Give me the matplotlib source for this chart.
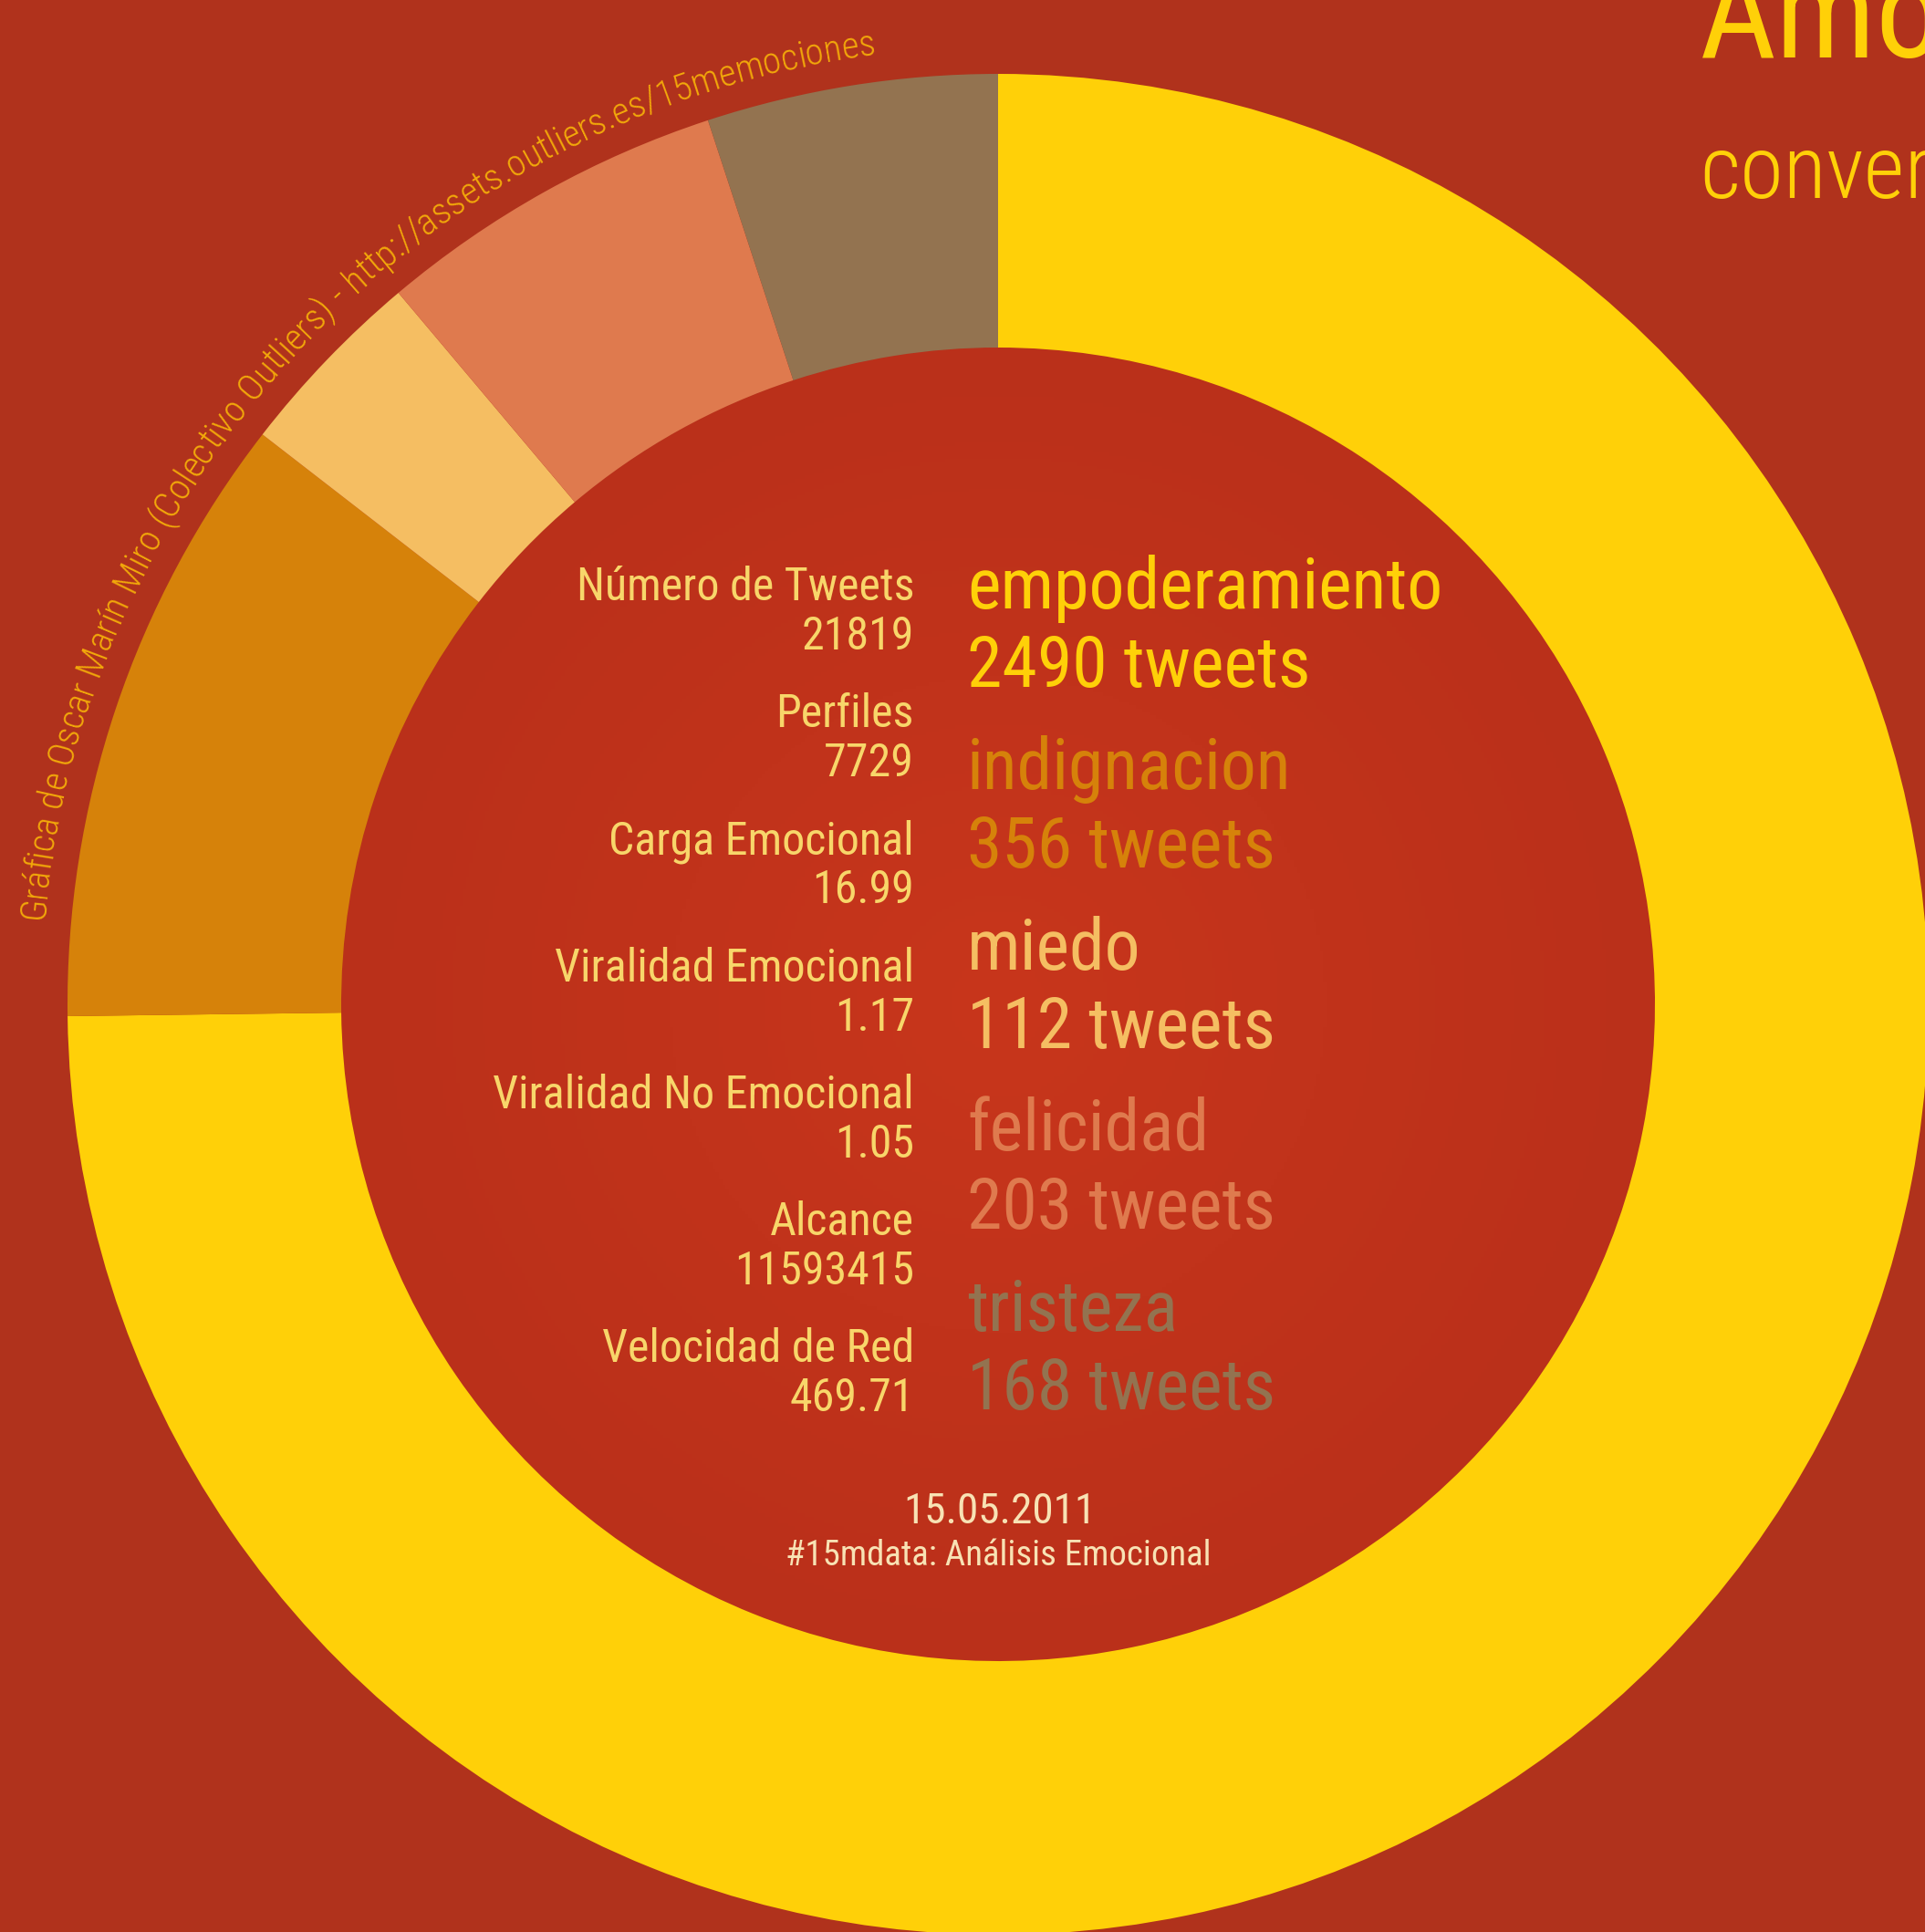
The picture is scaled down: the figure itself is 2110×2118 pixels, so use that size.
import numpy as np
import matplotlib
matplotlib.use('Agg')
import matplotlib.pyplot as plt
from matplotlib.patches import Circle
from matplotlib.font_manager import FontProperties

# emotion ring data
emotions = ['empoderamiento', 'indignacion', 'miedo', 'felicidad', 'tristeza']
tweets = [2490, 356, 112, 203, 168]
colors = ['#FFD008', '#D6820A', '#F5BE62', '#DF7A4E', '#937350']

# stats shown on the left of the center
stat_labels = ['Número de Tweets', 'Perfiles', 'Carga Emocional', 'Viralidad Emocional',
               'Viralidad No Emocional', 'Alcance', 'Velocidad de Red']
stat_values = ['21819', '7729', '16.99', '1.17', '1.05', '11593415', '469.71']

date = '15.05.2011'
subtitle = '#15mdata: Análisis Emocional'
credit = 'Gráfica de Oscar Marín Miro (Colectivo Outliers) - http://assets.outliers.es/15memociones'
title = 'Amo'
title2 = 'convers'

FONT = ['Roboto Condensed', 'Liberation Sans Narrow', 'Roboto', 'DejaVu Sans']
WEIGHT = 'normal'
BG = '#B0321C'
TXT = '#F8D66A'

W, H = 2110, 2118
fig = plt.figure(figsize=(W / 100, H / 100), dpi=100)
fig.patch.set_facecolor(BG)
ax = fig.add_axes([0, 0, 1, 1])
ax.set_facecolor(BG)

cx, cy = 1094, H - 1101
r_out, r_in = 1020, 720

ax.pie(tweets, colors=colors, radius=r_out, center=(cx, cy), startangle=90,
       counterclock=False, wedgeprops=dict(width=r_out - r_in, linewidth=0))

# inner disc with a soft radial gradient
yy, xx = np.mgrid[-1:1:400j, -1:1:400j]
rr = np.clip(np.sqrt(xx ** 2 + yy ** 2), 0, 1)[..., None]
c0 = np.array([0xC8, 0x36, 0x1C]) / 255
c1 = np.array([0xBA, 0x30, 0x1A]) / 255
img = c0 + (c1 - c0) * rr
im = ax.imshow(img, extent=(cx - r_in, cx + r_in, cy - r_in, cy + r_in), zorder=0.5)
im.set_clip_path(Circle((cx, cy), r_in, transform=ax.transData))

ax.set_xlim(0, W)
ax.set_ylim(0, H)
ax.set_aspect('auto')
ax.axis('off')


def Y(y_img):
    return H - y_img


# left column: stats
for i, (lab, val) in enumerate(zip(stat_labels, stat_values)):
    yb = 658 + 139.2 * i
    ax.text(1002, Y(yb), lab, ha='right', va='baseline', fontsize=36, color=TXT,
            family=FONT, weight=WEIGHT)
    ax.text(1002, Y(yb + 54), val, ha='right', va='baseline', fontsize=36, color=TXT,
            family=FONT, weight=WEIGHT)

# right column: emotions and counts
for i, (emo, n, col) in enumerate(zip(emotions, tweets, colors)):
    yb = 667 + 198 * i
    ax.text(1060, Y(yb), emo, ha='left', va='baseline', fontsize=56, color=col,
            family=FONT, weight=WEIGHT)
    ax.text(1060, Y(yb + 86), f'{n} tweets', ha='left', va='baseline', fontsize=56, color=col,
            family=FONT, weight=WEIGHT)

ax.text(1096, Y(1670), date, ha='center', va='baseline', fontsize=34, color='#F8E2B4',
        family=FONT, weight=WEIGHT)
ax.text(1094, Y(1716), subtitle, ha='center', va='baseline', fontsize=28, color='#F8E2B4',
        family=FONT, weight=WEIGHT)

# title, cut by the right edge
ax.text(1863, Y(63), title, ha='left', va='baseline', fontsize=105, color='#FFD008',
        family=FONT, weight=WEIGHT)
ax.text(1863, Y(217), title2, ha='left', va='baseline', fontsize=70, color='#FFD008',
        family=FONT, weight='light')

# credit written along the outside of the ring
renderer = fig.canvas.get_renderer()
R = 1050
th0, th1 = np.radians(175.0), np.radians(97.3)
arc = R * (th0 - th1)


def char_widths(fp):
    out = []
    for ch in credit:
        if ch == ' ':
            w = (renderer.get_text_width_height_descent('a a', fp, ismath=False)[0]
                 - renderer.get_text_width_height_descent('aa', fp, ismath=False)[0])
        else:
            w = renderer.get_text_width_height_descent(ch, fp, ismath=False)[0]
        out.append(w)
    return np.array(out)


fp = FontProperties(family=FONT, weight='light', size=20)
ws = char_widths(fp)
fp = FontProperties(family=FONT, weight='light', size=20 * arc / ws.sum())
ws = char_widths(fp)
starts = np.concatenate([[0], np.cumsum(ws)[:-1]])
for ch, s, w in zip(credit, starts, ws):
    th = th0 - (s + w / 2) / R
    ax.text(cx + R * np.cos(th), cy + R * np.sin(th), ch, rotation=np.degrees(th) - 90,
            rotation_mode='anchor', ha='center', va='baseline', fontproperties=fp, color='#F2A80A')

fig.savefig('out.png', dpi=100, facecolor=BG)
